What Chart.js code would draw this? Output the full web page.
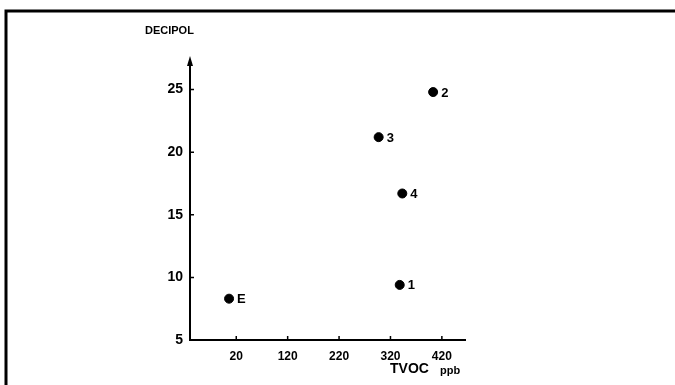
<!DOCTYPE html>
<html>
<head>
<meta charset="utf-8">
<script src="https://cdn.jsdelivr.net/npm/chart.js@4"></script>
<style>
  html, body { margin: 0; padding: 0; background: #fff; }
  #wrap { width: 675px; height: 385px; position: relative; }
</style>
</head>
<body>
<div id="wrap"><canvas id="myChart" width="675" height="385"></canvas></div>
<script>
const ctx = document.getElementById('myChart');

// samples
const pointNames = ['E', '1', '3', '4', '2'];
const tvoc = [6, 338, 297, 343, 403];
const decipol = [8.3, 9.4, 21.2, 16.7, 24.8];
const xTicks = [20, 120, 220, 320, 420];
const yTicks = [5, 10, 15, 20, 25];

const FONT = '"Liberation Sans", Arial, sans-serif';

// frame, arrow, inward ticks, axis titles and point names
const decor = {
    id: 'decor',
    beforeDraw(chart) {
        const c = chart.ctx;
        c.save();
        c.fillStyle = '#fff';
        c.fillRect(0, 0, chart.width, chart.height);
        c.strokeStyle = '#000';
        c.lineWidth = 3;
        c.beginPath();
        c.moveTo(6, 385);
        c.lineTo(6, 11);
        c.lineTo(675, 11);
        c.stroke();
        c.restore();
    },
    afterDraw(chart) {
        const c = chart.ctx;
        const area = chart.chartArea;
        const sx = chart.scales.x, sy = chart.scales.y;
        c.save();
        c.strokeStyle = '#000';
        c.lineWidth = 1.5;
        c.beginPath();
        xTicks.forEach(v => {
            const px = sx.getPixelForValue(v);
            c.moveTo(px, area.bottom);
            c.lineTo(px, area.bottom - 4);
        });
        yTicks.slice(1).forEach(v => {
            const py = sy.getPixelForValue(v);
            c.moveTo(area.left, py);
            c.lineTo(area.left + 4, py);
        });
        c.stroke();

        // arrow head on the y axis
        c.fillStyle = '#000';
        c.beginPath();
        c.moveTo(area.left, area.top - 6);
        c.lineTo(area.left - 3, area.top + 4);
        c.lineTo(area.left + 3, area.top + 4);
        c.closePath();
        c.fill();

        c.font = 'bold 11px ' + FONT;
        c.textBaseline = 'middle';
        c.textAlign = 'left';
        c.fillText('DECIPOL', 145, 31);

        c.font = 'bold 14px ' + FONT;
        c.fillText('TVOC', 390, 369);
        c.font = 'bold 11px ' + FONT;
        c.fillText('ppb', 440, 371);

        // point names
        const meta = chart.getDatasetMeta(0);
        c.font = 'bold 13px ' + FONT;
        meta.data.forEach((pt, i) => {
            c.fillText(pointNames[i], pt.x + 8, pt.y + 1);
        });
        c.restore();
    }
};

new Chart(ctx, {
    type: 'scatter',
    plugins: [decor],
    data: {
        datasets: [{
            data: tvoc.map((x, i) => ({ x: x, y: decipol[i] })),
            backgroundColor: '#000',
            borderColor: '#000',
            pointRadius: 4.5,
            pointHoverRadius: 4.5
        }]
    },
    options: {
        responsive: false,
        animation: false,
        layout: { padding: { left: 0, top: 62, right: 210, bottom: 0 } },
        plugins: {
            legend: { display: false },
            tooltip: { enabled: false }
        },
        scales: {
            x: {
                type: 'linear',
                min: -70,
                max: 465,
                afterBuildTicks: s => { s.ticks = xTicks.map(v => ({ value: v })); },
                afterFit: s => { s.height = 45; },
                border: { color: '#000', width: 2 },
                grid: { drawOnChartArea: false, color: 'rgba(0,0,0,0)', tickLength: 4 },
                ticks: { color: '#000', padding: 5, font: { family: FONT, size: 12, weight: 'bold' }, maxRotation: 0 }
            },
            y: {
                type: 'linear',
                min: 5,
                max: 27.2,
                afterBuildTicks: s => { s.ticks = yTicks.map(v => ({ value: v })); },
                afterFit: s => { s.width = 190; },
                border: { color: '#000', width: 2 },
                grid: { drawOnChartArea: false, color: 'rgba(0,0,0,0)', tickLength: 4 },
                ticks: { color: '#000', padding: 3, font: { family: FONT, size: 14, weight: 'bold' } }
            }
        }
    }
});
</script>
</body>
</html>
